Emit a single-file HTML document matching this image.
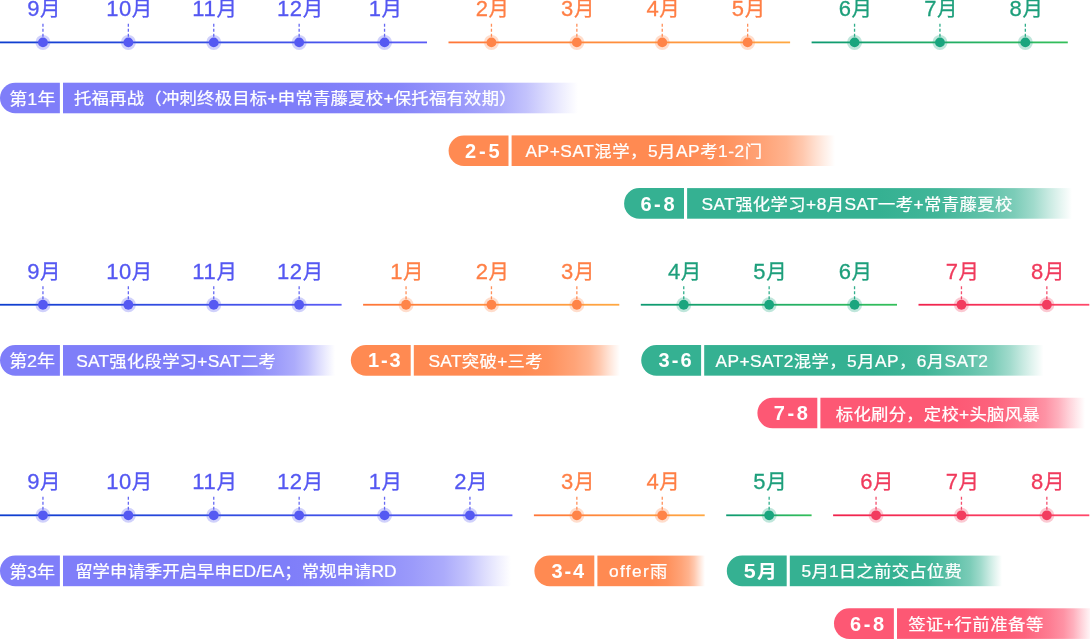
<!DOCTYPE html>
<html lang="zh-CN">
<head>
<meta charset="utf-8">
<title>留学规划时间轴</title>
<style>
html,body{margin:0;padding:0;background:#fff;}
body{width:1090px;height:639px;overflow:hidden;position:relative;}
svg{position:absolute;left:0;top:0;display:block;}
svg text{font-family:"Liberation Sans", "Noto Sans CJK SC", sans-serif;}
</style>
</head>
<body>
<svg width="1090" height="639" viewBox="0 0 1090 639">
<defs>
<linearGradient id="l1" gradientUnits="userSpaceOnUse" x1="0.0" y1="0" x2="427.0" y2="0"><stop offset="0" stop-color="#0e3ecf"/><stop offset="1" stop-color="#5b5cf6"/></linearGradient>
<linearGradient id="l2" gradientUnits="userSpaceOnUse" x1="448.5" y1="0" x2="790.1" y2="0"><stop offset="0" stop-color="#ff7638"/><stop offset="1" stop-color="#ffa842"/></linearGradient>
<linearGradient id="l3" gradientUnits="userSpaceOnUse" x1="811.6" y1="0" x2="1067.8" y2="0"><stop offset="0" stop-color="#0e9a72"/><stop offset="1" stop-color="#34bf5a"/></linearGradient>
<linearGradient id="l4" gradientUnits="userSpaceOnUse" x1="0.0" y1="0" x2="341.6" y2="0"><stop offset="0" stop-color="#0e3ecf"/><stop offset="1" stop-color="#5b5cf6"/></linearGradient>
<linearGradient id="l5" gradientUnits="userSpaceOnUse" x1="363.1" y1="0" x2="619.3" y2="0"><stop offset="0" stop-color="#ff7638"/><stop offset="1" stop-color="#ffa842"/></linearGradient>
<linearGradient id="l6" gradientUnits="userSpaceOnUse" x1="640.8" y1="0" x2="897.0" y2="0"><stop offset="0" stop-color="#0e9a72"/><stop offset="1" stop-color="#34bf5a"/></linearGradient>
<linearGradient id="l7" gradientUnits="userSpaceOnUse" x1="918.5" y1="0" x2="1089.3" y2="0"><stop offset="0" stop-color="#f0224c"/><stop offset="1" stop-color="#ff486a"/></linearGradient>
<linearGradient id="l8" gradientUnits="userSpaceOnUse" x1="0.0" y1="0" x2="512.4" y2="0"><stop offset="0" stop-color="#0e3ecf"/><stop offset="1" stop-color="#5b5cf6"/></linearGradient>
<linearGradient id="l9" gradientUnits="userSpaceOnUse" x1="533.9" y1="0" x2="704.7" y2="0"><stop offset="0" stop-color="#ff7638"/><stop offset="1" stop-color="#ffa842"/></linearGradient>
<linearGradient id="l10" gradientUnits="userSpaceOnUse" x1="726.2" y1="0" x2="811.6" y2="0"><stop offset="0" stop-color="#0e9a72"/><stop offset="1" stop-color="#34bf5a"/></linearGradient>
<linearGradient id="l11" gradientUnits="userSpaceOnUse" x1="833.1" y1="0" x2="1089.3" y2="0"><stop offset="0" stop-color="#f0224c"/><stop offset="1" stop-color="#ff486a"/></linearGradient>
<linearGradient id="l12" gradientUnits="userSpaceOnUse" x1="63.0" y1="0" x2="578.0" y2="0"><stop offset="0" stop-color="#7f7ef9" stop-opacity="1"/><stop offset="0.5" stop-color="#7f7ef9" stop-opacity="1"/><stop offset="0.65" stop-color="#7f7ef9" stop-opacity="0.94"/><stop offset="0.78" stop-color="#7f7ef9" stop-opacity="0.78"/><stop offset="0.85" stop-color="#7f7ef9" stop-opacity="0.65"/><stop offset="0.9" stop-color="#7f7ef9" stop-opacity="0.47"/><stop offset="0.94" stop-color="#7f7ef9" stop-opacity="0.27"/><stop offset="0.97" stop-color="#7f7ef9" stop-opacity="0.13"/><stop offset="1" stop-color="#7f7ef9" stop-opacity="0"/></linearGradient>
<linearGradient id="l13" gradientUnits="userSpaceOnUse" x1="511.6" y1="0" x2="835.0" y2="0"><stop offset="0" stop-color="#ff8a52" stop-opacity="1"/><stop offset="0.5" stop-color="#ff8a52" stop-opacity="1"/><stop offset="0.65" stop-color="#ff8a52" stop-opacity="0.94"/><stop offset="0.78" stop-color="#ff8a52" stop-opacity="0.78"/><stop offset="0.85" stop-color="#ff8a52" stop-opacity="0.65"/><stop offset="0.9" stop-color="#ff8a52" stop-opacity="0.47"/><stop offset="0.94" stop-color="#ff8a52" stop-opacity="0.27"/><stop offset="0.97" stop-color="#ff8a52" stop-opacity="0.13"/><stop offset="1" stop-color="#ff8a52" stop-opacity="0"/></linearGradient>
<linearGradient id="l14" gradientUnits="userSpaceOnUse" x1="687.1" y1="0" x2="1072.0" y2="0"><stop offset="0" stop-color="#35b192" stop-opacity="1"/><stop offset="0.5" stop-color="#35b192" stop-opacity="1"/><stop offset="0.65" stop-color="#35b192" stop-opacity="0.94"/><stop offset="0.78" stop-color="#35b192" stop-opacity="0.78"/><stop offset="0.85" stop-color="#35b192" stop-opacity="0.65"/><stop offset="0.9" stop-color="#35b192" stop-opacity="0.47"/><stop offset="0.94" stop-color="#35b192" stop-opacity="0.27"/><stop offset="0.97" stop-color="#35b192" stop-opacity="0.13"/><stop offset="1" stop-color="#35b192" stop-opacity="0"/></linearGradient>
<linearGradient id="l15" gradientUnits="userSpaceOnUse" x1="63.0" y1="0" x2="335.0" y2="0"><stop offset="0" stop-color="#7f7ef9" stop-opacity="1"/><stop offset="0.5" stop-color="#7f7ef9" stop-opacity="1"/><stop offset="0.65" stop-color="#7f7ef9" stop-opacity="0.94"/><stop offset="0.78" stop-color="#7f7ef9" stop-opacity="0.78"/><stop offset="0.85" stop-color="#7f7ef9" stop-opacity="0.65"/><stop offset="0.9" stop-color="#7f7ef9" stop-opacity="0.47"/><stop offset="0.94" stop-color="#7f7ef9" stop-opacity="0.27"/><stop offset="0.97" stop-color="#7f7ef9" stop-opacity="0.13"/><stop offset="1" stop-color="#7f7ef9" stop-opacity="0"/></linearGradient>
<linearGradient id="l16" gradientUnits="userSpaceOnUse" x1="413.8" y1="0" x2="620.0" y2="0"><stop offset="0" stop-color="#ff8a52" stop-opacity="1"/><stop offset="0.5" stop-color="#ff8a52" stop-opacity="1"/><stop offset="0.65" stop-color="#ff8a52" stop-opacity="0.94"/><stop offset="0.78" stop-color="#ff8a52" stop-opacity="0.78"/><stop offset="0.85" stop-color="#ff8a52" stop-opacity="0.65"/><stop offset="0.9" stop-color="#ff8a52" stop-opacity="0.47"/><stop offset="0.94" stop-color="#ff8a52" stop-opacity="0.27"/><stop offset="0.97" stop-color="#ff8a52" stop-opacity="0.13"/><stop offset="1" stop-color="#ff8a52" stop-opacity="0"/></linearGradient>
<linearGradient id="l17" gradientUnits="userSpaceOnUse" x1="704.2" y1="0" x2="1043.5" y2="0"><stop offset="0" stop-color="#35b192" stop-opacity="1"/><stop offset="0.5" stop-color="#35b192" stop-opacity="1"/><stop offset="0.65" stop-color="#35b192" stop-opacity="0.94"/><stop offset="0.78" stop-color="#35b192" stop-opacity="0.78"/><stop offset="0.85" stop-color="#35b192" stop-opacity="0.65"/><stop offset="0.9" stop-color="#35b192" stop-opacity="0.47"/><stop offset="0.94" stop-color="#35b192" stop-opacity="0.27"/><stop offset="0.97" stop-color="#35b192" stop-opacity="0.13"/><stop offset="1" stop-color="#35b192" stop-opacity="0"/></linearGradient>
<linearGradient id="l18" gradientUnits="userSpaceOnUse" x1="820.4" y1="0" x2="1085.0" y2="0"><stop offset="0" stop-color="#fd5874" stop-opacity="1"/><stop offset="0.5" stop-color="#fd5874" stop-opacity="1"/><stop offset="0.65" stop-color="#fd5874" stop-opacity="0.94"/><stop offset="0.78" stop-color="#fd5874" stop-opacity="0.78"/><stop offset="0.85" stop-color="#fd5874" stop-opacity="0.65"/><stop offset="0.9" stop-color="#fd5874" stop-opacity="0.47"/><stop offset="0.94" stop-color="#fd5874" stop-opacity="0.27"/><stop offset="0.97" stop-color="#fd5874" stop-opacity="0.13"/><stop offset="1" stop-color="#fd5874" stop-opacity="0"/></linearGradient>
<linearGradient id="l19" gradientUnits="userSpaceOnUse" x1="63.0" y1="0" x2="511.0" y2="0"><stop offset="0" stop-color="#7f7ef9" stop-opacity="1"/><stop offset="0.5" stop-color="#7f7ef9" stop-opacity="1"/><stop offset="0.65" stop-color="#7f7ef9" stop-opacity="0.94"/><stop offset="0.78" stop-color="#7f7ef9" stop-opacity="0.78"/><stop offset="0.85" stop-color="#7f7ef9" stop-opacity="0.65"/><stop offset="0.9" stop-color="#7f7ef9" stop-opacity="0.47"/><stop offset="0.94" stop-color="#7f7ef9" stop-opacity="0.27"/><stop offset="0.97" stop-color="#7f7ef9" stop-opacity="0.13"/><stop offset="1" stop-color="#7f7ef9" stop-opacity="0"/></linearGradient>
<linearGradient id="l20" gradientUnits="userSpaceOnUse" x1="597.4" y1="0" x2="705.0" y2="0"><stop offset="0" stop-color="#ff8a52" stop-opacity="1"/><stop offset="0.5" stop-color="#ff8a52" stop-opacity="1"/><stop offset="0.65" stop-color="#ff8a52" stop-opacity="0.94"/><stop offset="0.78" stop-color="#ff8a52" stop-opacity="0.78"/><stop offset="0.85" stop-color="#ff8a52" stop-opacity="0.65"/><stop offset="0.9" stop-color="#ff8a52" stop-opacity="0.47"/><stop offset="0.94" stop-color="#ff8a52" stop-opacity="0.27"/><stop offset="0.97" stop-color="#ff8a52" stop-opacity="0.13"/><stop offset="1" stop-color="#ff8a52" stop-opacity="0"/></linearGradient>
<linearGradient id="l21" gradientUnits="userSpaceOnUse" x1="789.8" y1="0" x2="1002.0" y2="0"><stop offset="0" stop-color="#35b192" stop-opacity="1"/><stop offset="0.5" stop-color="#35b192" stop-opacity="1"/><stop offset="0.65" stop-color="#35b192" stop-opacity="0.94"/><stop offset="0.78" stop-color="#35b192" stop-opacity="0.78"/><stop offset="0.85" stop-color="#35b192" stop-opacity="0.65"/><stop offset="0.9" stop-color="#35b192" stop-opacity="0.47"/><stop offset="0.94" stop-color="#35b192" stop-opacity="0.27"/><stop offset="0.97" stop-color="#35b192" stop-opacity="0.13"/><stop offset="1" stop-color="#35b192" stop-opacity="0"/></linearGradient>
<linearGradient id="l22" gradientUnits="userSpaceOnUse" x1="897.0" y1="0" x2="1093.0" y2="0"><stop offset="0" stop-color="#fd5874" stop-opacity="1"/><stop offset="0.5" stop-color="#fd5874" stop-opacity="1"/><stop offset="0.65" stop-color="#fd5874" stop-opacity="0.94"/><stop offset="0.78" stop-color="#fd5874" stop-opacity="0.78"/><stop offset="0.85" stop-color="#fd5874" stop-opacity="0.65"/><stop offset="0.9" stop-color="#fd5874" stop-opacity="0.47"/><stop offset="0.94" stop-color="#fd5874" stop-opacity="0.27"/><stop offset="0.97" stop-color="#fd5874" stop-opacity="0.13"/><stop offset="1" stop-color="#fd5874" stop-opacity="0"/></linearGradient>
</defs>
<rect x="0.00" y="41.50" width="427.00" height="1.8" fill="url(#l1)"/>
<line x1="42.95" y1="23.80" x2="42.95" y2="37.40" stroke="#5559f2" stroke-opacity="0.9" stroke-width="1.3" stroke-dasharray="3 2"/>
<circle cx="42.95" cy="42.40" r="7.5" fill="#5559f2" fill-opacity="0.28"/>
<circle cx="42.95" cy="42.40" r="4.9" fill="#5559f2"/>
<text x="44.15" y="16.20" text-anchor="middle" font-size="20.5" letter-spacing="0.6" stroke="#5457f2" stroke-width="0.3" fill="#5457f2"><tspan font-size="22">9</tspan>月</text>
<line x1="128.35" y1="23.80" x2="128.35" y2="37.40" stroke="#5559f2" stroke-opacity="0.9" stroke-width="1.3" stroke-dasharray="3 2"/>
<circle cx="128.35" cy="42.40" r="7.5" fill="#5559f2" fill-opacity="0.28"/>
<circle cx="128.35" cy="42.40" r="4.9" fill="#5559f2"/>
<text x="129.55" y="16.20" text-anchor="middle" font-size="20.5" letter-spacing="0.6" stroke="#5457f2" stroke-width="0.3" fill="#5457f2"><tspan font-size="22">10</tspan>月</text>
<line x1="213.75" y1="23.80" x2="213.75" y2="37.40" stroke="#5559f2" stroke-opacity="0.9" stroke-width="1.3" stroke-dasharray="3 2"/>
<circle cx="213.75" cy="42.40" r="7.5" fill="#5559f2" fill-opacity="0.28"/>
<circle cx="213.75" cy="42.40" r="4.9" fill="#5559f2"/>
<text x="214.95" y="16.20" text-anchor="middle" font-size="20.5" letter-spacing="0.6" stroke="#5457f2" stroke-width="0.3" fill="#5457f2"><tspan font-size="22">11</tspan>月</text>
<line x1="299.15" y1="23.80" x2="299.15" y2="37.40" stroke="#5559f2" stroke-opacity="0.9" stroke-width="1.3" stroke-dasharray="3 2"/>
<circle cx="299.15" cy="42.40" r="7.5" fill="#5559f2" fill-opacity="0.28"/>
<circle cx="299.15" cy="42.40" r="4.9" fill="#5559f2"/>
<text x="300.35" y="16.20" text-anchor="middle" font-size="20.5" letter-spacing="0.6" stroke="#5457f2" stroke-width="0.3" fill="#5457f2"><tspan font-size="22">12</tspan>月</text>
<line x1="384.55" y1="23.80" x2="384.55" y2="37.40" stroke="#5559f2" stroke-opacity="0.9" stroke-width="1.3" stroke-dasharray="3 2"/>
<circle cx="384.55" cy="42.40" r="7.5" fill="#5559f2" fill-opacity="0.28"/>
<circle cx="384.55" cy="42.40" r="4.9" fill="#5559f2"/>
<text x="385.75" y="16.20" text-anchor="middle" font-size="20.5" letter-spacing="0.6" stroke="#5457f2" stroke-width="0.3" fill="#5457f2"><tspan font-size="22">1</tspan>月</text>
<rect x="448.50" y="41.50" width="341.60" height="1.8" fill="url(#l2)"/>
<line x1="491.45" y1="23.80" x2="491.45" y2="37.40" stroke="#ff8448" stroke-opacity="0.9" stroke-width="1.3" stroke-dasharray="3 2"/>
<circle cx="491.45" cy="42.40" r="7.5" fill="#ff8448" fill-opacity="0.28"/>
<circle cx="491.45" cy="42.40" r="4.9" fill="#ff8448"/>
<text x="492.65" y="16.20" text-anchor="middle" font-size="20.5" letter-spacing="0.6" stroke="#ff7f45" stroke-width="0.3" fill="#ff7f45"><tspan font-size="22">2</tspan>月</text>
<line x1="576.85" y1="23.80" x2="576.85" y2="37.40" stroke="#ff8448" stroke-opacity="0.9" stroke-width="1.3" stroke-dasharray="3 2"/>
<circle cx="576.85" cy="42.40" r="7.5" fill="#ff8448" fill-opacity="0.28"/>
<circle cx="576.85" cy="42.40" r="4.9" fill="#ff8448"/>
<text x="578.05" y="16.20" text-anchor="middle" font-size="20.5" letter-spacing="0.6" stroke="#ff7f45" stroke-width="0.3" fill="#ff7f45"><tspan font-size="22">3</tspan>月</text>
<line x1="662.25" y1="23.80" x2="662.25" y2="37.40" stroke="#ff8448" stroke-opacity="0.9" stroke-width="1.3" stroke-dasharray="3 2"/>
<circle cx="662.25" cy="42.40" r="7.5" fill="#ff8448" fill-opacity="0.28"/>
<circle cx="662.25" cy="42.40" r="4.9" fill="#ff8448"/>
<text x="663.45" y="16.20" text-anchor="middle" font-size="20.5" letter-spacing="0.6" stroke="#ff7f45" stroke-width="0.3" fill="#ff7f45"><tspan font-size="22">4</tspan>月</text>
<line x1="747.65" y1="23.80" x2="747.65" y2="37.40" stroke="#ff8448" stroke-opacity="0.9" stroke-width="1.3" stroke-dasharray="3 2"/>
<circle cx="747.65" cy="42.40" r="7.5" fill="#ff8448" fill-opacity="0.28"/>
<circle cx="747.65" cy="42.40" r="4.9" fill="#ff8448"/>
<text x="748.85" y="16.20" text-anchor="middle" font-size="20.5" letter-spacing="0.6" stroke="#ff7f45" stroke-width="0.3" fill="#ff7f45"><tspan font-size="22">5</tspan>月</text>
<rect x="811.60" y="41.50" width="256.20" height="1.8" fill="url(#l3)"/>
<line x1="854.55" y1="23.80" x2="854.55" y2="37.40" stroke="#1aa57e" stroke-opacity="0.9" stroke-width="1.3" stroke-dasharray="3 2"/>
<circle cx="854.55" cy="42.40" r="7.5" fill="#1aa57e" fill-opacity="0.28"/>
<circle cx="854.55" cy="42.40" r="4.9" fill="#1aa57e"/>
<text x="855.75" y="16.20" text-anchor="middle" font-size="20.5" letter-spacing="0.6" stroke="#1d9f7b" stroke-width="0.3" fill="#1d9f7b"><tspan font-size="22">6</tspan>月</text>
<line x1="939.95" y1="23.80" x2="939.95" y2="37.40" stroke="#1aa57e" stroke-opacity="0.9" stroke-width="1.3" stroke-dasharray="3 2"/>
<circle cx="939.95" cy="42.40" r="7.5" fill="#1aa57e" fill-opacity="0.28"/>
<circle cx="939.95" cy="42.40" r="4.9" fill="#1aa57e"/>
<text x="941.15" y="16.20" text-anchor="middle" font-size="20.5" letter-spacing="0.6" stroke="#1d9f7b" stroke-width="0.3" fill="#1d9f7b"><tspan font-size="22">7</tspan>月</text>
<line x1="1025.35" y1="23.80" x2="1025.35" y2="37.40" stroke="#1aa57e" stroke-opacity="0.9" stroke-width="1.3" stroke-dasharray="3 2"/>
<circle cx="1025.35" cy="42.40" r="7.5" fill="#1aa57e" fill-opacity="0.28"/>
<circle cx="1025.35" cy="42.40" r="4.9" fill="#1aa57e"/>
<text x="1026.55" y="16.20" text-anchor="middle" font-size="20.5" letter-spacing="0.6" stroke="#1d9f7b" stroke-width="0.3" fill="#1d9f7b"><tspan font-size="22">8</tspan>月</text>
<rect x="0.00" y="303.85" width="341.60" height="1.8" fill="url(#l4)"/>
<line x1="42.95" y1="286.15" x2="42.95" y2="299.75" stroke="#5559f2" stroke-opacity="0.9" stroke-width="1.3" stroke-dasharray="3 2"/>
<circle cx="42.95" cy="304.75" r="7.5" fill="#5559f2" fill-opacity="0.28"/>
<circle cx="42.95" cy="304.75" r="4.9" fill="#5559f2"/>
<text x="44.15" y="278.55" text-anchor="middle" font-size="20.5" letter-spacing="0.6" stroke="#5457f2" stroke-width="0.3" fill="#5457f2"><tspan font-size="22">9</tspan>月</text>
<line x1="128.35" y1="286.15" x2="128.35" y2="299.75" stroke="#5559f2" stroke-opacity="0.9" stroke-width="1.3" stroke-dasharray="3 2"/>
<circle cx="128.35" cy="304.75" r="7.5" fill="#5559f2" fill-opacity="0.28"/>
<circle cx="128.35" cy="304.75" r="4.9" fill="#5559f2"/>
<text x="129.55" y="278.55" text-anchor="middle" font-size="20.5" letter-spacing="0.6" stroke="#5457f2" stroke-width="0.3" fill="#5457f2"><tspan font-size="22">10</tspan>月</text>
<line x1="213.75" y1="286.15" x2="213.75" y2="299.75" stroke="#5559f2" stroke-opacity="0.9" stroke-width="1.3" stroke-dasharray="3 2"/>
<circle cx="213.75" cy="304.75" r="7.5" fill="#5559f2" fill-opacity="0.28"/>
<circle cx="213.75" cy="304.75" r="4.9" fill="#5559f2"/>
<text x="214.95" y="278.55" text-anchor="middle" font-size="20.5" letter-spacing="0.6" stroke="#5457f2" stroke-width="0.3" fill="#5457f2"><tspan font-size="22">11</tspan>月</text>
<line x1="299.15" y1="286.15" x2="299.15" y2="299.75" stroke="#5559f2" stroke-opacity="0.9" stroke-width="1.3" stroke-dasharray="3 2"/>
<circle cx="299.15" cy="304.75" r="7.5" fill="#5559f2" fill-opacity="0.28"/>
<circle cx="299.15" cy="304.75" r="4.9" fill="#5559f2"/>
<text x="300.35" y="278.55" text-anchor="middle" font-size="20.5" letter-spacing="0.6" stroke="#5457f2" stroke-width="0.3" fill="#5457f2"><tspan font-size="22">12</tspan>月</text>
<rect x="363.10" y="303.85" width="256.20" height="1.8" fill="url(#l5)"/>
<line x1="406.05" y1="286.15" x2="406.05" y2="299.75" stroke="#ff8448" stroke-opacity="0.9" stroke-width="1.3" stroke-dasharray="3 2"/>
<circle cx="406.05" cy="304.75" r="7.5" fill="#ff8448" fill-opacity="0.28"/>
<circle cx="406.05" cy="304.75" r="4.9" fill="#ff8448"/>
<text x="407.25" y="278.55" text-anchor="middle" font-size="20.5" letter-spacing="0.6" stroke="#ff7f45" stroke-width="0.3" fill="#ff7f45"><tspan font-size="22">1</tspan>月</text>
<line x1="491.45" y1="286.15" x2="491.45" y2="299.75" stroke="#ff8448" stroke-opacity="0.9" stroke-width="1.3" stroke-dasharray="3 2"/>
<circle cx="491.45" cy="304.75" r="7.5" fill="#ff8448" fill-opacity="0.28"/>
<circle cx="491.45" cy="304.75" r="4.9" fill="#ff8448"/>
<text x="492.65" y="278.55" text-anchor="middle" font-size="20.5" letter-spacing="0.6" stroke="#ff7f45" stroke-width="0.3" fill="#ff7f45"><tspan font-size="22">2</tspan>月</text>
<line x1="576.85" y1="286.15" x2="576.85" y2="299.75" stroke="#ff8448" stroke-opacity="0.9" stroke-width="1.3" stroke-dasharray="3 2"/>
<circle cx="576.85" cy="304.75" r="7.5" fill="#ff8448" fill-opacity="0.28"/>
<circle cx="576.85" cy="304.75" r="4.9" fill="#ff8448"/>
<text x="578.05" y="278.55" text-anchor="middle" font-size="20.5" letter-spacing="0.6" stroke="#ff7f45" stroke-width="0.3" fill="#ff7f45"><tspan font-size="22">3</tspan>月</text>
<rect x="640.80" y="303.85" width="256.20" height="1.8" fill="url(#l6)"/>
<line x1="683.75" y1="286.15" x2="683.75" y2="299.75" stroke="#1aa57e" stroke-opacity="0.9" stroke-width="1.3" stroke-dasharray="3 2"/>
<circle cx="683.75" cy="304.75" r="7.5" fill="#1aa57e" fill-opacity="0.28"/>
<circle cx="683.75" cy="304.75" r="4.9" fill="#1aa57e"/>
<text x="684.95" y="278.55" text-anchor="middle" font-size="20.5" letter-spacing="0.6" stroke="#1d9f7b" stroke-width="0.3" fill="#1d9f7b"><tspan font-size="22">4</tspan>月</text>
<line x1="769.15" y1="286.15" x2="769.15" y2="299.75" stroke="#1aa57e" stroke-opacity="0.9" stroke-width="1.3" stroke-dasharray="3 2"/>
<circle cx="769.15" cy="304.75" r="7.5" fill="#1aa57e" fill-opacity="0.28"/>
<circle cx="769.15" cy="304.75" r="4.9" fill="#1aa57e"/>
<text x="770.35" y="278.55" text-anchor="middle" font-size="20.5" letter-spacing="0.6" stroke="#1d9f7b" stroke-width="0.3" fill="#1d9f7b"><tspan font-size="22">5</tspan>月</text>
<line x1="854.55" y1="286.15" x2="854.55" y2="299.75" stroke="#1aa57e" stroke-opacity="0.9" stroke-width="1.3" stroke-dasharray="3 2"/>
<circle cx="854.55" cy="304.75" r="7.5" fill="#1aa57e" fill-opacity="0.28"/>
<circle cx="854.55" cy="304.75" r="4.9" fill="#1aa57e"/>
<text x="855.75" y="278.55" text-anchor="middle" font-size="20.5" letter-spacing="0.6" stroke="#1d9f7b" stroke-width="0.3" fill="#1d9f7b"><tspan font-size="22">6</tspan>月</text>
<rect x="918.50" y="303.85" width="170.80" height="1.8" fill="url(#l7)"/>
<line x1="961.45" y1="286.15" x2="961.45" y2="299.75" stroke="#f23c5e" stroke-opacity="0.9" stroke-width="1.3" stroke-dasharray="3 2"/>
<circle cx="961.45" cy="304.75" r="7.5" fill="#f23c5e" fill-opacity="0.28"/>
<circle cx="961.45" cy="304.75" r="4.9" fill="#f23c5e"/>
<text x="962.65" y="278.55" text-anchor="middle" font-size="20.5" letter-spacing="0.6" stroke="#f03a5c" stroke-width="0.3" fill="#f03a5c"><tspan font-size="22">7</tspan>月</text>
<line x1="1046.85" y1="286.15" x2="1046.85" y2="299.75" stroke="#f23c5e" stroke-opacity="0.9" stroke-width="1.3" stroke-dasharray="3 2"/>
<circle cx="1046.85" cy="304.75" r="7.5" fill="#f23c5e" fill-opacity="0.28"/>
<circle cx="1046.85" cy="304.75" r="4.9" fill="#f23c5e"/>
<text x="1048.05" y="278.55" text-anchor="middle" font-size="20.5" letter-spacing="0.6" stroke="#f03a5c" stroke-width="0.3" fill="#f03a5c"><tspan font-size="22">8</tspan>月</text>
<rect x="0.00" y="514.40" width="512.40" height="1.8" fill="url(#l8)"/>
<line x1="42.95" y1="496.70" x2="42.95" y2="510.30" stroke="#5559f2" stroke-opacity="0.9" stroke-width="1.3" stroke-dasharray="3 2"/>
<circle cx="42.95" cy="515.30" r="7.5" fill="#5559f2" fill-opacity="0.28"/>
<circle cx="42.95" cy="515.30" r="4.9" fill="#5559f2"/>
<text x="44.15" y="489.10" text-anchor="middle" font-size="20.5" letter-spacing="0.6" stroke="#5457f2" stroke-width="0.3" fill="#5457f2"><tspan font-size="22">9</tspan>月</text>
<line x1="128.35" y1="496.70" x2="128.35" y2="510.30" stroke="#5559f2" stroke-opacity="0.9" stroke-width="1.3" stroke-dasharray="3 2"/>
<circle cx="128.35" cy="515.30" r="7.5" fill="#5559f2" fill-opacity="0.28"/>
<circle cx="128.35" cy="515.30" r="4.9" fill="#5559f2"/>
<text x="129.55" y="489.10" text-anchor="middle" font-size="20.5" letter-spacing="0.6" stroke="#5457f2" stroke-width="0.3" fill="#5457f2"><tspan font-size="22">10</tspan>月</text>
<line x1="213.75" y1="496.70" x2="213.75" y2="510.30" stroke="#5559f2" stroke-opacity="0.9" stroke-width="1.3" stroke-dasharray="3 2"/>
<circle cx="213.75" cy="515.30" r="7.5" fill="#5559f2" fill-opacity="0.28"/>
<circle cx="213.75" cy="515.30" r="4.9" fill="#5559f2"/>
<text x="214.95" y="489.10" text-anchor="middle" font-size="20.5" letter-spacing="0.6" stroke="#5457f2" stroke-width="0.3" fill="#5457f2"><tspan font-size="22">11</tspan>月</text>
<line x1="299.15" y1="496.70" x2="299.15" y2="510.30" stroke="#5559f2" stroke-opacity="0.9" stroke-width="1.3" stroke-dasharray="3 2"/>
<circle cx="299.15" cy="515.30" r="7.5" fill="#5559f2" fill-opacity="0.28"/>
<circle cx="299.15" cy="515.30" r="4.9" fill="#5559f2"/>
<text x="300.35" y="489.10" text-anchor="middle" font-size="20.5" letter-spacing="0.6" stroke="#5457f2" stroke-width="0.3" fill="#5457f2"><tspan font-size="22">12</tspan>月</text>
<line x1="384.55" y1="496.70" x2="384.55" y2="510.30" stroke="#5559f2" stroke-opacity="0.9" stroke-width="1.3" stroke-dasharray="3 2"/>
<circle cx="384.55" cy="515.30" r="7.5" fill="#5559f2" fill-opacity="0.28"/>
<circle cx="384.55" cy="515.30" r="4.9" fill="#5559f2"/>
<text x="385.75" y="489.10" text-anchor="middle" font-size="20.5" letter-spacing="0.6" stroke="#5457f2" stroke-width="0.3" fill="#5457f2"><tspan font-size="22">1</tspan>月</text>
<line x1="469.95" y1="496.70" x2="469.95" y2="510.30" stroke="#5559f2" stroke-opacity="0.9" stroke-width="1.3" stroke-dasharray="3 2"/>
<circle cx="469.95" cy="515.30" r="7.5" fill="#5559f2" fill-opacity="0.28"/>
<circle cx="469.95" cy="515.30" r="4.9" fill="#5559f2"/>
<text x="471.15" y="489.10" text-anchor="middle" font-size="20.5" letter-spacing="0.6" stroke="#5457f2" stroke-width="0.3" fill="#5457f2"><tspan font-size="22">2</tspan>月</text>
<rect x="533.90" y="514.40" width="170.80" height="1.8" fill="url(#l9)"/>
<line x1="576.85" y1="496.70" x2="576.85" y2="510.30" stroke="#ff8448" stroke-opacity="0.9" stroke-width="1.3" stroke-dasharray="3 2"/>
<circle cx="576.85" cy="515.30" r="7.5" fill="#ff8448" fill-opacity="0.28"/>
<circle cx="576.85" cy="515.30" r="4.9" fill="#ff8448"/>
<text x="578.05" y="489.10" text-anchor="middle" font-size="20.5" letter-spacing="0.6" stroke="#ff7f45" stroke-width="0.3" fill="#ff7f45"><tspan font-size="22">3</tspan>月</text>
<line x1="662.25" y1="496.70" x2="662.25" y2="510.30" stroke="#ff8448" stroke-opacity="0.9" stroke-width="1.3" stroke-dasharray="3 2"/>
<circle cx="662.25" cy="515.30" r="7.5" fill="#ff8448" fill-opacity="0.28"/>
<circle cx="662.25" cy="515.30" r="4.9" fill="#ff8448"/>
<text x="663.45" y="489.10" text-anchor="middle" font-size="20.5" letter-spacing="0.6" stroke="#ff7f45" stroke-width="0.3" fill="#ff7f45"><tspan font-size="22">4</tspan>月</text>
<rect x="726.20" y="514.40" width="85.40" height="1.8" fill="url(#l10)"/>
<line x1="769.15" y1="496.70" x2="769.15" y2="510.30" stroke="#1aa57e" stroke-opacity="0.9" stroke-width="1.3" stroke-dasharray="3 2"/>
<circle cx="769.15" cy="515.30" r="7.5" fill="#1aa57e" fill-opacity="0.28"/>
<circle cx="769.15" cy="515.30" r="4.9" fill="#1aa57e"/>
<text x="770.35" y="489.10" text-anchor="middle" font-size="20.5" letter-spacing="0.6" stroke="#1d9f7b" stroke-width="0.3" fill="#1d9f7b"><tspan font-size="22">5</tspan>月</text>
<rect x="833.10" y="514.40" width="256.20" height="1.8" fill="url(#l11)"/>
<line x1="876.05" y1="496.70" x2="876.05" y2="510.30" stroke="#f23c5e" stroke-opacity="0.9" stroke-width="1.3" stroke-dasharray="3 2"/>
<circle cx="876.05" cy="515.30" r="7.5" fill="#f23c5e" fill-opacity="0.28"/>
<circle cx="876.05" cy="515.30" r="4.9" fill="#f23c5e"/>
<text x="877.25" y="489.10" text-anchor="middle" font-size="20.5" letter-spacing="0.6" stroke="#f03a5c" stroke-width="0.3" fill="#f03a5c"><tspan font-size="22">6</tspan>月</text>
<line x1="961.45" y1="496.70" x2="961.45" y2="510.30" stroke="#f23c5e" stroke-opacity="0.9" stroke-width="1.3" stroke-dasharray="3 2"/>
<circle cx="961.45" cy="515.30" r="7.5" fill="#f23c5e" fill-opacity="0.28"/>
<circle cx="961.45" cy="515.30" r="4.9" fill="#f23c5e"/>
<text x="962.65" y="489.10" text-anchor="middle" font-size="20.5" letter-spacing="0.6" stroke="#f03a5c" stroke-width="0.3" fill="#f03a5c"><tspan font-size="22">7</tspan>月</text>
<line x1="1046.85" y1="496.70" x2="1046.85" y2="510.30" stroke="#f23c5e" stroke-opacity="0.9" stroke-width="1.3" stroke-dasharray="3 2"/>
<circle cx="1046.85" cy="515.30" r="7.5" fill="#f23c5e" fill-opacity="0.28"/>
<circle cx="1046.85" cy="515.30" r="4.9" fill="#f23c5e"/>
<text x="1048.05" y="489.10" text-anchor="middle" font-size="20.5" letter-spacing="0.6" stroke="#f03a5c" stroke-width="0.3" fill="#f03a5c"><tspan font-size="22">8</tspan>月</text>
<path d="M15.30 82.70H59.90V113.30H15.30A15.30 15.30 0 0 1 15.30 82.70Z" fill="#7f7ef9"/>
<rect x="63.00" y="82.70" width="515.00" height="30.6" fill="url(#l12)"/>
<text transform="translate(9.30 104.60) scale(1.0 0.95)" font-size="18" letter-spacing="0.05" stroke="#fff" stroke-width="0.2" fill="#fff">第1年</text>
<text transform="translate(73.98 104.45) scale(1.02 0.95)" font-size="17" stroke="#fff" stroke-width="0.25" letter-spacing="0.25" fill="#fff">托福再战（冲刺终极目标+申常青藤夏校+保托福有效期）</text>
<path d="M463.90 135.40H508.50V166.00H463.90A15.30 15.30 0 0 1 463.90 135.40Z" fill="#ff8a52"/>
<rect x="511.60" y="135.40" width="323.40" height="30.6" fill="url(#l13)"/>
<text transform="translate(465.00 157.80) scale(1.0 1.0)" font-size="20" font-weight="bold" letter-spacing="2.80" fill="#fff">2-5</text>
<text transform="translate(525.50 157.15) scale(1.02 0.95)" font-size="17" stroke="#fff" stroke-width="0.25" letter-spacing="0.52" fill="#fff">AP+SAT混学，5月AP考1-2门</text>
<path d="M639.40 188.10H684.00V218.70H639.40A15.30 15.30 0 0 1 639.40 188.10Z" fill="#35b192"/>
<rect x="687.10" y="188.10" width="384.90" height="30.6" fill="url(#l14)"/>
<text transform="translate(640.40 210.50) scale(1.0 1.0)" font-size="20" font-weight="bold" letter-spacing="2.60" fill="#fff">6-8</text>
<text transform="translate(701.48 209.85) scale(1.02 0.95)" font-size="17" stroke="#fff" stroke-width="0.25" letter-spacing="0.40" fill="#fff">SAT强化学习+8月SAT一考+常青藤夏校</text>
<path d="M15.30 345.05H59.90V375.65H15.30A15.30 15.30 0 0 1 15.30 345.05Z" fill="#7f7ef9"/>
<rect x="63.00" y="345.05" width="272.00" height="30.6" fill="url(#l15)"/>
<text transform="translate(9.20 366.95) scale(1.0 0.95)" font-size="18" letter-spacing="-0.15" stroke="#fff" stroke-width="0.2" fill="#fff">第2年</text>
<text transform="translate(76.18 366.80) scale(1.02 0.95)" font-size="17" stroke="#fff" stroke-width="0.25" letter-spacing="0.25" fill="#fff">SAT强化段学习+SAT二考</text>
<path d="M366.10 345.05H410.70V375.65H366.10A15.30 15.30 0 0 1 366.10 345.05Z" fill="#ff8a52"/>
<rect x="413.80" y="345.05" width="206.20" height="30.6" fill="url(#l16)"/>
<text transform="translate(367.90 367.45) scale(1.0 1.0)" font-size="20" font-weight="bold" letter-spacing="1.95" fill="#fff">1-3</text>
<text transform="translate(428.48 366.80) scale(1.02 0.95)" font-size="17" stroke="#fff" stroke-width="0.25" letter-spacing="0.31" fill="#fff">SAT突破+三考</text>
<path d="M656.50 345.05H701.10V375.65H656.50A15.30 15.30 0 0 1 656.50 345.05Z" fill="#35b192"/>
<rect x="704.20" y="345.05" width="339.30" height="30.6" fill="url(#l17)"/>
<text transform="translate(658.60 367.45) scale(1.0 1.0)" font-size="20" font-weight="bold" letter-spacing="2.10" fill="#fff">3-6</text>
<text transform="translate(715.40 366.80) scale(1.02 0.95)" font-size="17" stroke="#fff" stroke-width="0.25" letter-spacing="0.43" fill="#fff">AP+SAT2混学，5月AP，6月SAT2</text>
<path d="M772.70 397.75H817.30V428.35H772.70A15.30 15.30 0 0 1 772.70 397.75Z" fill="#fd5874"/>
<rect x="820.40" y="397.75" width="264.60" height="30.6" fill="url(#l18)"/>
<text transform="translate(773.80 420.15) scale(1.0 1.0)" font-size="20" font-weight="bold" letter-spacing="2.55" fill="#fff">7-8</text>
<text transform="translate(835.80 419.50) scale(1.02 0.95)" font-size="17" stroke="#fff" stroke-width="0.25" letter-spacing="0.27" fill="#fff">标化刷分，定校+头脑风暴</text>
<path d="M15.30 555.60H59.90V586.20H15.30A15.30 15.30 0 0 1 15.30 555.60Z" fill="#7f7ef9"/>
<rect x="63.00" y="555.60" width="448.00" height="30.6" fill="url(#l19)"/>
<text transform="translate(9.20 577.50) scale(1.0 0.95)" font-size="18" letter-spacing="-0.10" stroke="#fff" stroke-width="0.2" fill="#fff">第3年</text>
<text transform="translate(75.18 577.35) scale(1.02 0.95)" font-size="17" stroke="#fff" stroke-width="0.25" letter-spacing="0.08" fill="#fff">留学申请季开启早申ED/EA；常规申请RD</text>
<path d="M549.70 555.60H594.30V586.20H549.70A15.30 15.30 0 0 1 549.70 555.60Z" fill="#ff8a52"/>
<rect x="597.40" y="555.60" width="107.60" height="30.6" fill="url(#l20)"/>
<text transform="translate(551.60 578.00) scale(1.0 1.0)" font-size="20" font-weight="bold" letter-spacing="1.75" fill="#fff">3-4</text>
<text transform="translate(608.98 577.35) scale(1.02 0.95)" font-size="17" stroke="#fff" stroke-width="0.25" letter-spacing="1.30" fill="#fff">offer雨</text>
<path d="M742.10 555.60H786.70V586.20H742.10A15.30 15.30 0 0 1 742.10 555.60Z" fill="#35b192"/>
<rect x="789.80" y="555.60" width="212.20" height="30.6" fill="url(#l21)"/>
<text transform="translate(743.80 577.60) scale(1.0 0.93)" font-size="20" font-weight="bold" letter-spacing="1.20" fill="#fff"><tspan font-size="21.5">5</tspan>月</text>
<text transform="translate(801.48 577.35) scale(1.02 0.95)" font-size="17" stroke="#fff" stroke-width="0.25" letter-spacing="0.25" fill="#fff">5月1日之前交占位费</text>
<path d="M849.30 608.30H893.90V638.90H849.30A15.30 15.30 0 0 1 849.30 608.30Z" fill="#fd5874"/>
<rect x="897.00" y="608.30" width="193.00" height="30.6" fill="url(#l22)"/>
<text transform="translate(850.00 630.70) scale(1.0 1.0)" font-size="20" font-weight="bold" letter-spacing="2.65" fill="#fff">6-8</text>
<text transform="translate(908.18 630.05) scale(1.02 0.95)" font-size="17" stroke="#fff" stroke-width="0.25" letter-spacing="0.50" fill="#fff">签证+行前准备等</text>
</svg>
</body>
</html>
